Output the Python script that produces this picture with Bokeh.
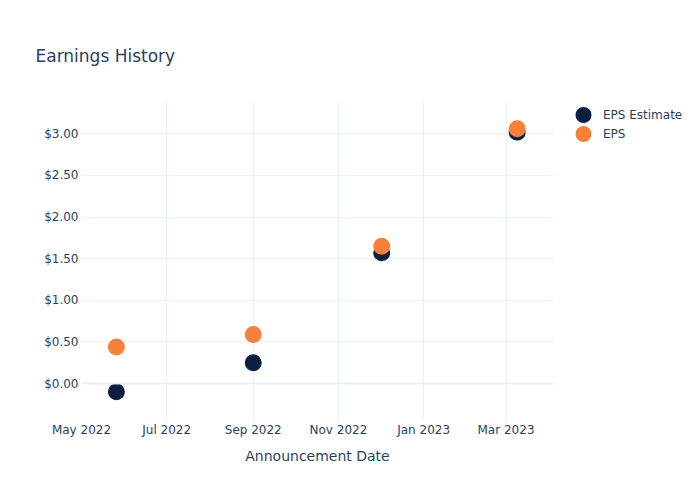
from datetime import datetime
from bokeh.plotting import figure
from bokeh.models import (ColumnDataSource, Legend, LegendItem, Span, Range1d,
                          MonthsTicker, DatetimeTickFormatter, NumeralTickFormatter,
                          SingleIntervalTicker)
from bokeh.embed import file_html
from bokeh.resources import INLINE

dates = [datetime(2022, 5, 26), datetime(2022, 9, 1), datetime(2022, 12, 2), datetime(2023, 3, 9)]
eps_estimate = [-0.10, 0.25, 1.57, 3.02]
eps_actual = [0.44, 0.59, 1.65, 3.06]
series_names = ["EPS Estimate", "EPS"]
title_text = "Earnings History"
x_label = "Announcement Date"

FONT = "DejaVu Sans"
TXT = "#2a3f5f"
GRID = "#ebf0f8"
COLORS = ["#0c1f40", "#f7813a"]

p = figure(output_backend="svg", toolbar_location=None, x_axis_type="datetime",
           frame_width=472, frame_height=320,
           min_border_left=81, min_border_right=131, min_border_top=100, min_border_bottom=64,
           x_range=Range1d(datetime(2022, 5, 1), datetime(2023, 4, 4)),
           y_range=Range1d(-0.444, 3.40))
p.outline_line_color = None
p.background_fill_color = "white"
p.border_fill_color = "white"

p.title.text = title_text
p.title.text_font = FONT
p.title.text_font_size = "17px"
p.title.text_font_style = "normal"
p.title.text_color = TXT
p.title.align = "left"
p.title.offset = -46
p.title.standoff = 70

src_est = ColumnDataSource(dict(x=dates, y=eps_estimate))
src_act = ColumnDataSource(dict(x=dates, y=eps_actual))
# size + outline width gives a ~17px dot in the plot and a ~16px dot in the compact legend
r1 = p.scatter("x", "y", source=src_est, size=8.6, fill_color=COLORS[0],
               line_color=COLORS[0], line_width=8.4)
r2 = p.scatter("x", "y", source=src_act, size=8.6, fill_color=COLORS[1],
               line_color=COLORS[1], line_width=8.4)

for ax in (p.xaxis[0], p.yaxis[0]):
    ax.axis_line_color = None
    ax.major_tick_line_color = None
    ax.minor_tick_line_color = None
    ax.major_tick_out = 0
    ax.major_tick_in = 0
    ax.minor_tick_out = 0
    ax.minor_tick_in = 0
    ax.major_label_text_font = FONT
    ax.major_label_text_font_size = "12px"
    ax.major_label_text_color = TXT

p.xaxis.ticker = MonthsTicker(months=[0, 2, 4, 6, 8, 10])
p.xaxis.formatter = DatetimeTickFormatter(months="%b %Y", days="%b %Y")
p.xaxis.major_label_standoff = 2
p.xaxis.axis_label = x_label
p.xaxis.axis_label_text_font = FONT
p.xaxis.axis_label_text_font_size = "14px"
p.xaxis.axis_label_text_font_style = "normal"
p.xaxis.axis_label_text_color = TXT
p.xaxis.axis_label_standoff = 8

p.yaxis.ticker = SingleIntervalTicker(interval=0.5)
p.yaxis.formatter = NumeralTickFormatter(format="$0.00")
p.yaxis.major_label_standoff = 3

p.xgrid.grid_line_color = GRID
p.ygrid.grid_line_color = GRID
p.xgrid.grid_line_width = 1
p.ygrid.grid_line_width = 1

p.add_layout(Span(location=0, dimension="width", line_color=GRID, line_width=2))

legend = Legend(items=[LegendItem(label=series_names[0], renderers=[r1]),
                       LegendItem(label=series_names[1], renderers=[r2])],
                location=(20, 277), border_line_color=None, background_fill_alpha=0,
                label_text_font=FONT, label_text_font_size="12px", label_text_color=TXT,
                glyph_width=20, glyph_height=19, spacing=0, padding=0, margin=0,
                label_standoff=10, label_height=19)
p.add_layout(legend, "right")

open("out.html", "w").write(file_html(p, INLINE))
